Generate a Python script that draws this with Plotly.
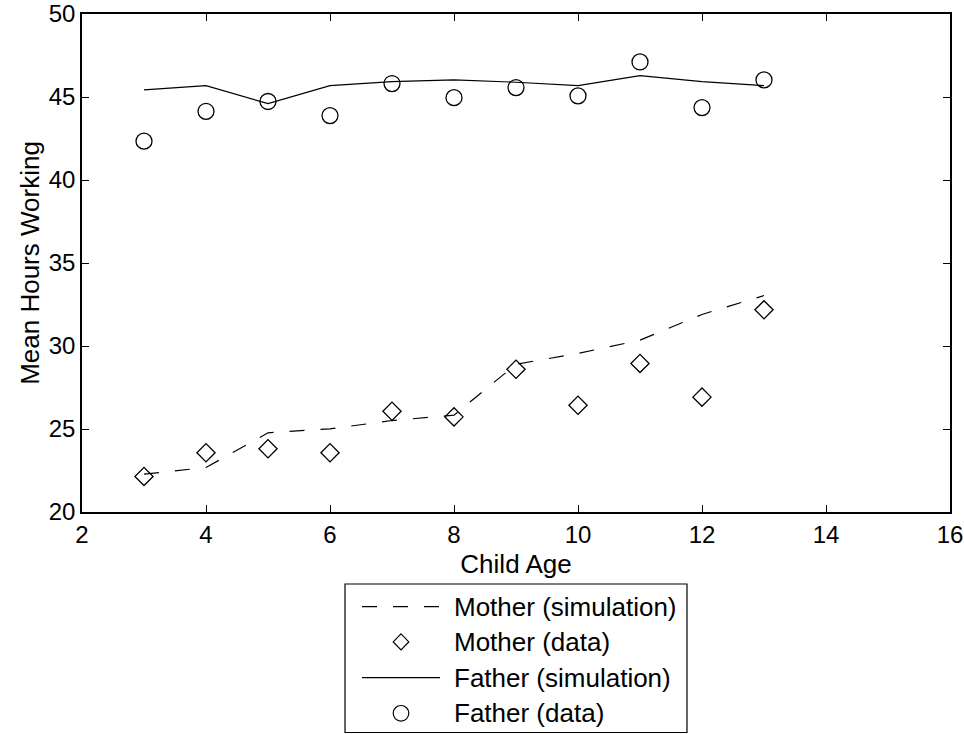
import plotly.graph_objects as go

# Mean weekly hours worked by parents, by age of the child
ages = [3, 4, 5, 6, 7, 8, 9, 10, 11, 12, 13]
mother_sim = [22.28, 22.68, 24.77, 25.01, 25.51, 25.83, 28.9, 29.55, 30.35, 31.9, 33.04]
mother_data = [22.14, 23.57, 23.81, 23.57, 26.07, 25.73, 28.6, 26.43, 28.95, 26.92, 32.18]
father_sim = [45.43, 45.69, 44.6, 45.69, 45.93, 46.03, 45.89, 45.69, 46.29, 45.93, 45.69]
father_data = [42.34, 44.14, 44.73, 43.88, 45.81, 44.96, 45.57, 45.07, 47.11, 44.36, 46.03]

x_ticks = [2, 4, 6, 8, 10, 12, 14, 16]
y_ticks = [20, 25, 30, 35, 40, 45, 50]

legend_labels = ["Mother (simulation)", "Mother (data)",
                 "Father (simulation)", "Father (data)"]

FONT = "Liberation Sans, Arial, Helvetica, sans-serif"
FS = 26
TICK_FS = 24
DASH = "15px,16px"
W, H = 964, 734
ML, MR, MT, MB = 82, 14, 14, 222
PW, PH = W - ML - MR, H - MT - MB


def fx(px):
    """pixel x -> paper fraction"""
    return (px - ML) / PW


def fy(py):
    """pixel y (from top) -> paper fraction"""
    return (H - MB - py) / PH


fig = go.Figure()

fig.add_trace(go.Scatter(
    x=ages, y=mother_sim, mode="lines", name=legend_labels[0],
    line=dict(color="black", width=1.2, dash=DASH), showlegend=False))
fig.add_trace(go.Scatter(
    x=ages, y=mother_data, mode="markers", name=legend_labels[1],
    marker=dict(symbol="diamond-open", size=14, color="black",
                line=dict(width=1.3, color="black")), showlegend=False))
fig.add_trace(go.Scatter(
    x=ages, y=father_sim, mode="lines", name=legend_labels[2],
    line=dict(color="black", width=1.2), showlegend=False))
fig.add_trace(go.Scatter(
    x=ages, y=father_data, mode="markers", name=legend_labels[3],
    marker=dict(symbol="circle-open", size=16, color="black",
                line=dict(width=1.3, color="black")), showlegend=False))

axis_common = dict(
    showline=True, linecolor="black", linewidth=1.5, mirror="ticks",
    ticks="inside", ticklen=7, tickwidth=1, tickcolor="black",
    showgrid=False, zeroline=False, automargin=False,
    ticklabeloverflow="allow",
    tickfont=dict(family=FONT, size=TICK_FS, color="black"),
)

fig.update_xaxes(range=[2, 16], tickvals=x_ticks,
                 ticktext=[str(v) for v in x_ticks],
                 title=dict(text="Child Age", standoff=8,
                            font=dict(family=FONT, size=FS, color="black")),
                 **axis_common)
fig.update_yaxes(range=[20, 50], tickvals=y_ticks,
                 ticktext=[str(v) for v in y_ticks],
                 title=dict(text="Mean Hours Working", standoff=2,
                            font=dict(family=FONT, size=FS, color="black")),
                 **axis_common)

# Legend box drawn below the axes
shapes = [dict(type="rect", xref="paper", yref="paper",
               x0=fx(345), x1=fx(687), y0=fy(584), y1=fy(732.5),
               line=dict(color="black", width=1.2), fillcolor="white",
               layer="above")]
annotations = []
rows = [606.7, 641.9, 677.7, 713.3]
for i, (label, py) in enumerate(zip(legend_labels, rows)):
    if i in (0, 2):
        shapes.append(dict(type="line", xref="paper", yref="paper",
                           x0=fx(362), x1=fx(440), y0=fy(py), y1=fy(py),
                           line=dict(color="black", width=1.2,
                                     dash=DASH if i == 0 else "solid")))
    elif i == 1:
        shapes.append(dict(type="path", xref="paper", yref="paper",
                           xsizemode="pixel", ysizemode="pixel",
                           xanchor=fx(401), yanchor=fy(py),
                           path="M0,8 L7.8,0 L0,-8 L-7.8,0 Z",
                           line=dict(color="black", width=1.2)))
    else:
        shapes.append(dict(type="circle", xref="paper", yref="paper",
                           xsizemode="pixel", ysizemode="pixel",
                           xanchor=fx(401), yanchor=fy(py),
                           x0=-7.8, x1=7.8, y0=-7.8, y1=7.8,
                           line=dict(color="black", width=1.2)))
    annotations.append(dict(text=label, xref="paper", yref="paper",
                            x=fx(452), y=fy(py), xanchor="left",
                            yanchor="middle", showarrow=False,
                            font=dict(family=FONT, size=FS, color="black")))

fig.update_layout(
    width=W, height=H,
    margin=dict(l=ML, r=MR, t=MT, b=MB, pad=0),
    paper_bgcolor="white", plot_bgcolor="white",
    font=dict(family=FONT, size=FS, color="black"),
    shapes=shapes, annotations=annotations,
    showlegend=False,
)

fig.write_html("out.html")
